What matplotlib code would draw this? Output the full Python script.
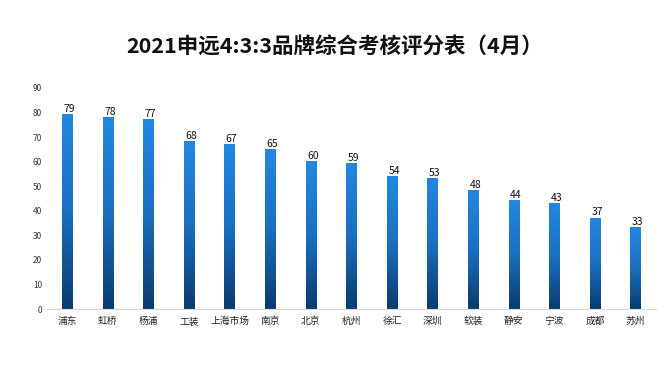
import numpy as np
import matplotlib
matplotlib.use('Agg')
import matplotlib.pyplot as plt
from matplotlib.colors import LinearSegmentedColormap

plt.rcParams['font.family'] = ['Noto Sans CJK SC', 'DejaVu Sans']

# data
cities = ['浦东', '虹桥', '杨浦', '工装', '上海市场', '南京', '北京', '杭州',
          '徐汇', '深圳', '软装', '静安', '宁波', '成都', '苏州']
scores = [79, 78, 77, 68, 67, 65, 60, 59, 54, 53, 48, 44, 43, 37, 33]

fig = plt.figure(figsize=(6.7, 3.77), dpi=100)
ax = fig.add_axes([0.07, 0.18, 0.909, 0.587])

# dark blue at the bottom, bright blue at the top
cmap = LinearSegmentedColormap.from_list('bar', ['#0b3b6e', '#1a6fc0', '#2288e0'])
grad = np.linspace(0, 1, 256).reshape(-1, 1)
w = 0.26

for i, v in enumerate(scores):
    ax.imshow(grad, cmap=cmap, origin='lower', aspect='auto',
              extent=(i - w / 2, i + w / 2, 0, v), zorder=2)
    ax.text(i + 0.05, v + 0.3, str(v), ha='center', va='bottom', fontsize=7.5,
            color='#111111')

ax.set_xlim(-0.5, len(cities) - 0.5)
ax.set_ylim(0, 90)
ax.set_yticks(range(0, 91, 10))
ax.set_xticks(range(len(cities)))
ax.set_xticklabels(cities, fontsize=7, color='#222222')
ax.tick_params(axis='y', labelsize=6, colors='#333333', length=0)
ax.tick_params(axis='x', length=0, pad=5)
for s in ['top', 'right', 'left']:
    ax.spines[s].set_visible(False)
ax.spines['bottom'].set_color('#d9d9d9')

fig.text(0.5, 0.875, '2021申远4:3:3品牌综合考核评分表（4月）', ha='center',
         va='center', fontsize=15.5, fontweight='bold', color='#111111')

fig.savefig('out.png', dpi=100, facecolor='white')
